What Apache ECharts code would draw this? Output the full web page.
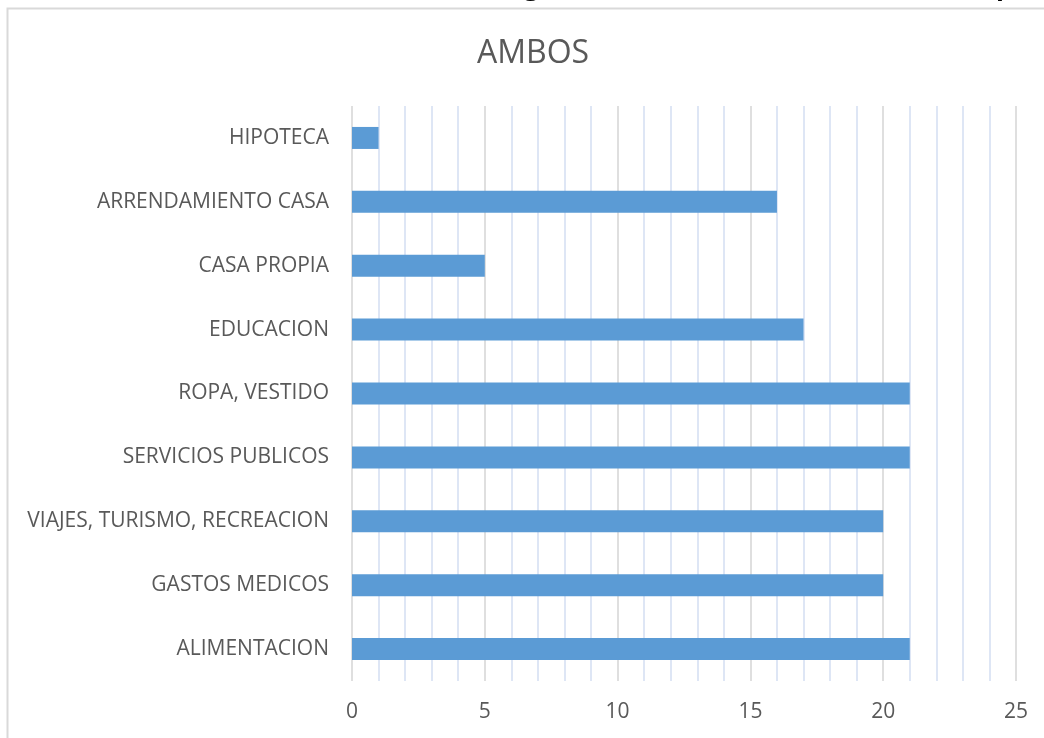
<!DOCTYPE html>
<html>
<head>
<meta charset="utf-8">
<script src="https://cdn.jsdelivr.net/npm/echarts@6/dist/echarts.min.js"></script>
<style>
  html, body { margin: 0; padding: 0; background: #fff; }
  #chart { width: 1044px; height: 738px; }
</style>
</head>
<body>
<div id="chart"></div>
<script>
// categories, bottom to top as the axis draws them
const categories = [
  'ALIMENTACION',
  'GASTOS MEDICOS',
  'VIAJES, TURISMO, RECREACION',
  'SERVICIOS PUBLICOS',
  'ROPA, VESTIDO',
  'EDUCACION',
  'CASA PROPIA',
  'ARRENDAMIENTO CASA',
  'HIPOTECA',
];
const values = [21, 20, 20, 21, 21, 17, 5, 16, 1];
const xTicks = [0, 5, 10, 15, 20, 25];

const chart = echarts.init(document.getElementById('chart'), null, { renderer: 'canvas' });

chart.setOption({
  backgroundColor: '#fff',
  animation: false,
  title: {
    text: 'AMBOS',
    left: 472,
    top: 33,
    textStyle: { color: '#595959', fontSize: 32, fontWeight: 'normal', fontFamily: 'Open Sans' },
  },
  grid: { left: 352, right: 28, top: 106, bottom: 57, containLabel: false },
  xAxis: {
    type: 'value',
    min: xTicks[0],
    max: xTicks[xTicks.length - 1],
    interval: 5,
    axisLine: { show: false },
    axisTick: { show: false },
    axisLabel: { color: '#595959', fontSize: 21, fontFamily: 'Open Sans', margin: 21 },
    splitLine: { show: true, lineStyle: { color: '#d4d4d4', width: 1.5 } },
    minorTick: { show: false, splitNumber: 5 },
    minorSplitLine: { show: true, lineStyle: { color: '#d3def2', width: 1.5 } },
  },
  yAxis: {
    type: 'category',
    data: categories,
    axisLine: { show: false },
    axisTick: { show: false },
    axisLabel: { color: '#595959', fontSize: 21, fontFamily: 'Open Sans', margin: 23 },
  },
  series: [{
    type: 'bar',
    data: values,
    barWidth: 22,
    itemStyle: { color: '#5b9bd5' },
  }],
  graphic: [
    { type: 'rect', left: 5, top: 6, shape: { width: 1100, height: 800 }, style: { fill: 'none', stroke: '#d9d9d9', lineWidth: 2 }, z: 100 },
    { type: 'text', left: 524, top: -25, style: { text: 'g', fill: '#000', fontSize: 26, fontWeight: 'bold', fontFamily: 'Open Sans' } },
    { type: 'text', left: 996, top: -25, style: { text: 'p', fill: '#000', fontSize: 26, fontWeight: 'bold', fontFamily: 'Open Sans' } },
  ],
});
</script>
</body>
</html>
